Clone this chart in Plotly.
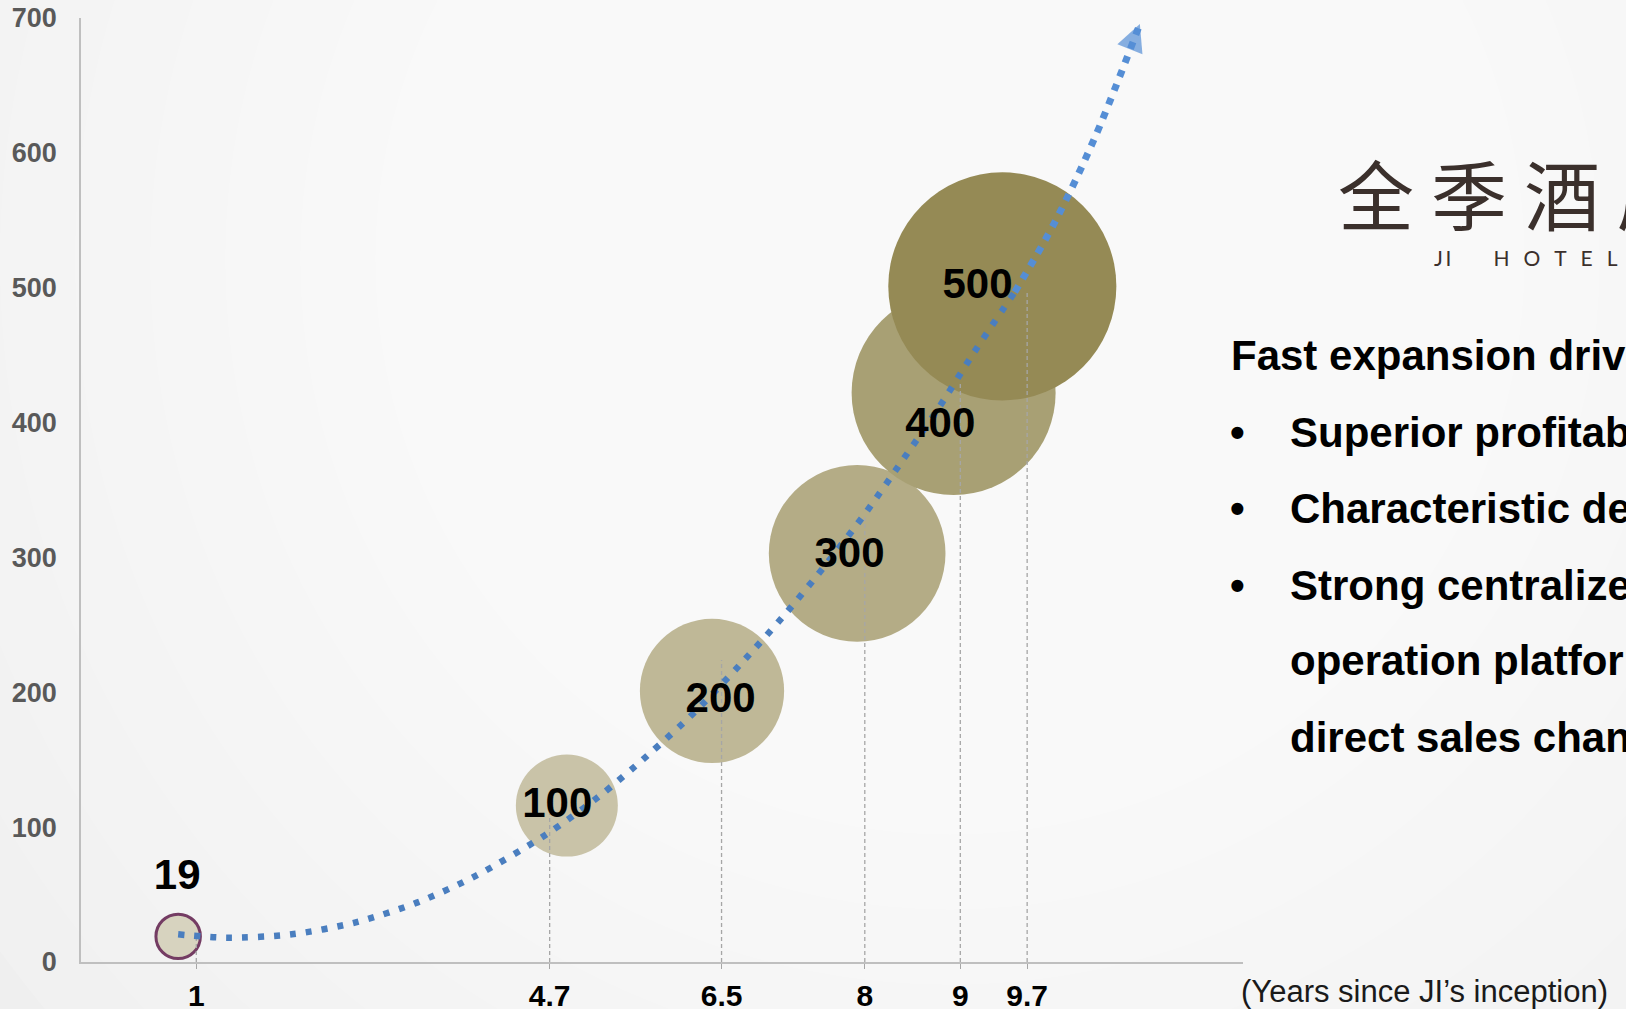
import plotly.graph_objects as go

# ---------------- data ----------------
years = [1, 4.7, 6.5, 8, 9, 9.7]
year_labels = ["1", "4.7", "6.5", "8", "9", "9.7"]
hotels = [19, 100, 200, 300, 400, 500]

# bubble centres as placed in the picture (x in years, y in hotels)
bubble_x = [0.81, 4.88, 6.40, 7.92, 8.93, 9.44]
bubble_y = [19, 116, 201, 303, 422, 501]

# where the number labels sit
label_x = [0.80, 4.78, 6.49, 7.84, 8.79, 9.18]
label_y = [62, 115, 193, 301, 397, 500]

# tops of the dashed drop lines
guide_top = [19, 110, 224, 331, 429, 497]

# dotted growth curve
trend_x = [0.81, 1.32, 2.00, 2.67, 3.31, 3.93, 4.66, 5.21, 5.73, 6.23,
           6.70, 7.15, 7.58, 8.00, 8.39, 8.78, 9.14, 9.57]
trend_y = [20.5, 18.0, 20.5, 29.4, 44.0, 64.0, 94.4, 122.4, 153.5, 186.1,
           221.0, 256.6, 293.6, 332.2, 371.5, 411.6, 451.6, 496.8]

# arrow continuation
arrow_x = [9.57, 9.99, 10.42, 10.88]
arrow_y = [496.8, 548.7, 613.2, 695.5]

y_ticks = [0, 100, 200, 300, 400, 500, 600, 700]

title_line = "Fast expansion driven by"
bullet_lines = ["Superior profitability", "Characteristic design",
                "Strong centralized"]
cont_lines = ["operation platform and", "direct sales channel"]
logo_cn = "全季酒店"
logo_en = "JI HOTEL"
axis_note = "(Years since JI\u2019s inception)"

# ---------------- styling ----------------
W, H = 1626, 1009
PL, PR, PT, PB = 81, 1243, 18, 962
FONT = "Liberation Sans, Arial, sans-serif"

bubble_colors = ["#D7D3BF", "#C9C3A8", "#BFB897", "#B4AC86", "#A8A074", "#958A55"]
bubble_line_colors = ["#743C63"] + ["rgba(0,0,0,0)"] * 5
bubble_line_widths = [3, 0, 0, 0, 0, 0]


def px(x):
    return (x - PL) / (PR - PL)


def py(y):
    return (PB - y) / (PB - PT)


fig = go.Figure()

# bubbles
fig.add_trace(go.Scatter(
    x=bubble_x, y=bubble_y, mode="markers",
    marker=dict(size=hotels, sizemode="area", sizeref=2 / 10.2 ** 2,
                color=bubble_colors, opacity=1,
                line=dict(color=bubble_line_colors, width=bubble_line_widths)),
    cliponaxis=False, hoverinfo="skip", showlegend=False))

# drop lines
dx, dy = [], []
for xv, tv in zip(years, guide_top):
    dx += [xv, xv, None]
    dy += [0, tv, None]
fig.add_trace(go.Scatter(
    x=dx, y=dy, mode="lines",
    line=dict(color="#A6A6A6", width=1.3, dash="4px,3px"),
    cliponaxis=False, hoverinfo="skip", showlegend=False))

# dotted curve
fig.add_trace(go.Scatter(
    x=trend_x, y=trend_y, mode="lines",
    line=dict(color="#4A7EBF", width=6.5, dash="6px,10px",
              shape="spline", smoothing=0.8),
    cliponaxis=False, hoverinfo="skip", showlegend=False))

# arrow
fig.add_trace(go.Scatter(
    x=arrow_x, y=arrow_y, mode="lines+markers",
    line=dict(color="#558ED5", width=7, dash="7px,8px", shape="spline"),
    marker=dict(symbol="arrow-up", size=[0, 0, 0, 27], angleref="previous",
                color="#558ED5", line=dict(width=0)),
    cliponaxis=False, hoverinfo="skip", showlegend=False))

# number labels
fig.add_trace(go.Scatter(
    x=label_x, y=label_y, mode="text", text=[str(h) for h in hotels],
    textposition="middle center",
    textfont=dict(family=FONT, size=42, color="#000000", weight="bold"),
    cliponaxis=False, hoverinfo="skip", showlegend=False))

# background glow (soft radial lightening)
shapes = []
cx, cy = 950, 260
for k in range(16):
    r = 1250 - k * 75
    shapes.append(dict(type="circle", xref="paper", yref="paper", layer="below",
                       x0=px(cx - r), x1=px(cx + r), y0=py(cy + r), y1=py(cy - r),
                       fillcolor="rgba(255,255,255,0.13)", line=dict(width=0)))

annotations = []
# logo
annotations.append(dict(xref="paper", yref="paper", x=px(1336), y=py(192),
                         xanchor="left", yanchor="middle", showarrow=False,
                         text=" ".join(logo_cn),
                         font=dict(family="Noto Sans CJK SC", size=76, color="#3B302C")))
en = logo_en.split(" ")
gap = "\u2002\u2006"
en_text = "\u2009".join(en[0]) + "\u2002" * 4 + gap.join(en[1])
annotations.append(dict(xref="paper", yref="paper", x=px(1432), y=py(257),
                         xanchor="left", yanchor="middle", showarrow=False,
                         text=en_text,
                         font=dict(family="Lato, Liberation Sans", size=21, color="#3B302C")))
# text block
annotations.append(dict(xref="paper", yref="paper", x=px(1229), y=py(355),
                         xanchor="left", yanchor="middle", showarrow=False,
                         text="<b>" + title_line + "</b>",
                         font=dict(family=FONT, size=42, color="#000000")))
ys = [432, 508, 585, 660, 737]
for i, line in enumerate(bullet_lines + cont_lines):
    if i < len(bullet_lines):
        annotations.append(dict(xref="paper", yref="paper", x=px(1228), y=py(ys[i]),
                                 xanchor="left", yanchor="middle", showarrow=False,
                                 text="<b>\u2022</b>",
                                 font=dict(family=FONT, size=42, color="#000000")))
    annotations.append(dict(xref="paper", yref="paper", x=px(1288), y=py(ys[i]),
                             xanchor="left", yanchor="middle", showarrow=False,
                             text="<b>" + line + "</b>",
                             font=dict(family=FONT, size=42, color="#000000")))
annotations.append(dict(xref="paper", yref="paper", x=px(1239), y=py(991),
                         xanchor="left", yanchor="middle", showarrow=False,
                         text=axis_note,
                         font=dict(family=FONT, size=31, color="#1A1A1A")))

fig.update_layout(
    width=W, height=H,
    margin=dict(l=PL, r=W - PR, t=PT, b=H - PB, pad=0, autoexpand=False),
    paper_bgcolor="#EDEDED", plot_bgcolor="rgba(0,0,0,0)",
    shapes=shapes, annotations=annotations, showlegend=False,
    xaxis=dict(range=[(PL - 100.8) / 95.5, (PR - 100.8) / 95.5], automargin=False,
               tickmode="array", tickvals=years, ticktext=year_labels,
               showgrid=False, zeroline=False, showline=True,
               linecolor="#BFBFBF", linewidth=1.5,
               ticks="outside", ticklen=5, tickcolor="#A6A6A6", tickwidth=1,
               ticklabelstandoff=1,
               tickfont=dict(family=FONT, size=30, color="#000000", weight="bold")),
    yaxis=dict(range=[0, 700], tickmode="array", tickvals=y_ticks, automargin=False,
               showgrid=False, zeroline=False, showline=True,
               linecolor="#BFBFBF", linewidth=1.5, ticks="",
               ticklabelstandoff=17,
               tickfont=dict(family=FONT, size=27, color="#595959", weight="bold")),
)

fig.write_html("out.html")
